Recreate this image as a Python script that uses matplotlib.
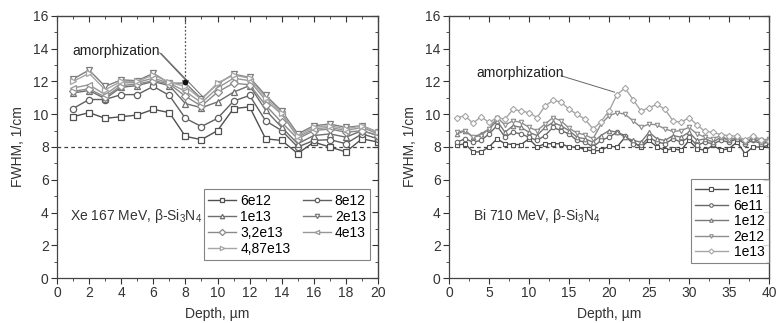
import numpy as np
import matplotlib
matplotlib.use('Agg')
import matplotlib.pyplot as plt
from matplotlib.ticker import MultipleLocator

plt.rcParams['font.family'] = ['Liberation Sans', 'DejaVu Sans']
plt.rcParams['mathtext.fontset'] = 'custom'
plt.rcParams['mathtext.rm'] = 'Liberation Sans'
plt.rcParams['mathtext.it'] = 'Liberation Sans'
plt.rcParams['font.size'] = 10

# Xe 167 MeV, depth 1..20 um
depth_xe = list(range(1, 21))
xe_6e12 = [9.85, 10.1, 9.75, 9.85, 9.95, 10.3, 10.1, 8.65, 8.45, 9.0, 10.35, 10.45, 8.5, 8.4, 7.6, 8.3, 8.0, 7.7, 8.5, 8.3]
xe_8e12 = [10.35, 10.9, 10.9, 11.2, 11.2, 11.7, 11.15, 9.75, 9.25, 9.75, 10.8, 11.15, 9.6, 9.0, 8.0, 8.4, 8.45, 8.2, 8.8, 8.5]
xe_1e13 = [11.3, 11.45, 10.95, 11.65, 11.75, 12.0, 11.75, 10.65, 10.4, 10.75, 11.35, 11.75, 10.25, 9.2, 8.2, 8.7, 8.8, 8.6, 9.0, 8.7]
xe_2e13 = [12.15, 12.7, 11.7, 12.1, 12.05, 12.5, 11.9, 11.9, 10.95, 11.85, 12.45, 12.25, 11.15, 10.2, 8.8, 9.3, 9.4, 9.2, 9.3, 8.9]
xe_32e13 = [11.4, 11.55, 11.05, 11.75, 11.85, 12.05, 11.85, 11.1, 10.5, 11.35, 11.9, 11.8, 10.55, 9.5, 8.5, 9.0, 9.1, 8.9, 9.0, 8.7]
xe_4e13 = [11.6, 11.8, 11.2, 11.9, 11.95, 12.2, 11.9, 11.4, 10.7, 11.6, 12.2, 12.05, 10.85, 10.0, 8.6, 9.1, 9.2, 9.0, 9.2, 8.8]
xe_487e13 = [12.0, 12.5, 11.5, 12.0, 12.0, 12.4, 11.95, 11.7, 10.9, 11.9, 12.4, 12.2, 11.0, 10.1, 8.7, 9.2, 9.3, 9.1, 9.3, 8.9]

# Bi 710 MeV, depth 1..40 um
depth_bi = list(range(1, 41))
bi_1e11 = [8.1, 8.2, 7.7, 7.7, 8.0, 8.5, 8.2, 8.15, 8.15, 8.5, 8.0, 8.2, 8.2, 8.2, 8.0, 8.0, 7.85, 7.75, 7.8, 8.05,
           8.0, 8.6, 8.3, 8.0, 8.4, 8.0, 7.8, 7.9, 7.8, 8.4, 7.9, 7.8, 8.1, 7.8, 7.9, 8.3, 7.6, 8.0, 8.0, 8.1]
bi_6e11 = [8.3, 8.5, 8.3, 8.4, 8.8, 9.3, 8.6, 8.9, 8.8, 8.6, 8.4, 8.7, 9.2, 9.0, 8.8, 8.4, 8.3, 8.0, 8.4, 8.6,
           8.9, 8.7, 8.2, 8.1, 8.6, 8.3, 8.2, 8.5, 8.3, 8.6, 8.1, 8.3, 8.2, 8.4, 8.3, 8.5, 8.2, 8.4, 8.2, 8.3]
bi_1e12 = [8.8, 9.0, 8.6, 8.8, 9.1, 9.6, 8.9, 9.3, 9.2, 8.9, 8.7, 9.2, 9.5, 9.3, 9.0, 8.6, 8.5, 8.3, 8.7, 9.0,
           8.9, 8.6, 8.4, 8.3, 8.9, 8.5, 8.4, 8.7, 8.6, 8.9, 8.4, 8.5, 8.3, 8.6, 8.4, 8.6, 8.3, 8.5, 8.3, 8.4]
bi_2e12 = [8.9, 9.0, 8.6, 8.7, 9.1, 9.8, 9.35, 9.6, 9.5, 9.2, 9.0, 9.4, 9.8, 9.6, 9.15, 8.85, 8.75, 8.5, 9.4, 9.9,
           10.1, 10.0, 9.6, 9.2, 9.4, 9.35, 9.1, 8.95, 9.0, 9.2, 8.8, 8.6, 8.5, 8.7, 8.4, 8.6, 8.3, 8.6, 8.4, 8.5]
bi_1e13 = [9.8, 9.9, 9.45, 9.85, 9.5, 9.8, 9.7, 10.3, 10.2, 10.1, 9.8, 10.5, 10.85, 10.75, 10.3, 10.0, 9.7, 9.1, 9.55, 10.2,
           11.2, 11.6, 10.9, 10.2, 10.4, 10.6, 10.3, 9.6, 9.5, 9.8, 9.35, 8.95, 8.9, 8.75, 8.7, 8.65, 8.45, 8.7, 8.45, 8.35]

xe_series = [(xe_6e12, '6e12', 's', '#505050'), (xe_8e12, '8e12', 'o', '#606060'),
             (xe_1e13, '1e13', '^', '#6e6e6e'), (xe_2e13, '2e13', 'v', '#7c7c7c'),
             (xe_32e13, '3,2e13', 'D', '#8a8a8a'), (xe_4e13, '4e13', '<', '#979797'),
             (xe_487e13, '4,87e13', '>', '#a5a5a5')]
bi_series = [(bi_1e11, '1e11', 's', '#505050'), (bi_6e11, '6e11', 'o', '#686868'),
             (bi_1e12, '1e12', '^', '#7a7a7a'), (bi_2e12, '2e12', 'v', '#8e8e8e'),
             (bi_1e13, '1e13', 'D', '#a6a6a6')]

fig = plt.figure(figsize=(7.78, 3.23), dpi=100)
ax1 = fig.add_axes([57 / 778, 45 / 323, 321 / 778, 262 / 323])
ax2 = fig.add_axes([449 / 778, 45 / 323, 320 / 778, 262 / 323])


def style_axes(ax, xmax, xmajor, xminor):
    ax.set_xlim(0, xmax)
    ax.set_ylim(0, 16)
    ax.xaxis.set_major_locator(MultipleLocator(xmajor))
    ax.xaxis.set_minor_locator(MultipleLocator(xminor))
    ax.yaxis.set_major_locator(MultipleLocator(2))
    ax.yaxis.set_minor_locator(MultipleLocator(1))
    ax.tick_params(which='major', direction='out', length=4, width=0.8, colors='#333333', labelsize=10, pad=2)
    ax.tick_params(which='minor', direction='out', length=2, width=0.6, colors='#333333')
    for s in ax.spines.values():
        s.set_color('#444444')
        s.set_linewidth(0.9)
    top = ax.secondary_xaxis('top')
    top.xaxis.set_major_locator(MultipleLocator(xmajor))
    top.xaxis.set_minor_locator(MultipleLocator(xminor))
    top.tick_params(which='both', direction='in', labeltop=False, colors='#333333')
    top.tick_params(which='major', length=4)
    top.tick_params(which='minor', length=2)
    right = ax.secondary_yaxis('right')
    right.yaxis.set_major_locator(MultipleLocator(2))
    right.yaxis.set_minor_locator(MultipleLocator(1))
    right.tick_params(which='both', direction='in', labelright=False, colors='#333333')
    right.tick_params(which='major', length=4)
    right.tick_params(which='minor', length=2)
    ax.set_xlabel('Depth, µm', color='#333333', labelpad=5)
    ax.set_ylabel('FWHM, 1/cm', color='#333333', labelpad=6)
    ax.axhline(8, color='#444444', lw=0.9, ls=(0, (3, 2.5)), zorder=1)


style_axes(ax1, 20, 2, 1)
style_axes(ax2, 40, 5, 2.5)

for vals, lab, mk, col in xe_series:
    ax1.plot(depth_xe, vals, color=col, lw=1.0, marker=mk, ms=4.5, mfc='white', mec=col, mew=0.9, label=lab)

for vals, lab, mk, col in bi_series:
    ax2.plot(depth_bi, vals, color=col, lw=1.0, marker=mk, ms=3.2, mfc='white', mec=col, mew=0.8, label=lab)

# amorphization marks
ax1.plot([8, 8], [12.1, 16], color='#555555', lw=0.9, ls=(0, (1.5, 1.5)), zorder=1)
ax1.plot(8, 11.95, marker='o', color='#111111', ms=3, zorder=5)
ax1.text(0.95, 13.85, 'amorphization', fontsize=10, color='#222222', va='center')
ax1.plot([6.4, 8.0], [13.75, 12.1], color='#666666', lw=0.7)
ax1.plot([6.5, 9.1], [13.7, 11.05], color='#666666', lw=0.7)

ax2.text(3.4, 12.5, 'amorphization', fontsize=10, color='#222222', va='center')
ax2.plot([14.0, 20.7], [12.35, 11.35], color='#666666', lw=0.7)

ax1.text(0.04, 0.237, r'Xe 167 MeV, $\beta$-Si$_3$N$_4$', transform=ax1.transAxes,
         fontsize=10, color='#333333', va='center')
ax2.text(0.075, 0.235, r'Bi 710 MeV, $\beta$-Si$_3$N$_4$', transform=ax2.transAxes,
         fontsize=10, color='#333333', va='center')

h, l = ax1.get_legend_handles_labels()
order = [0, 2, 4, 6, 1, 3, 5]
leg1 = ax1.legend([h[i] for i in order], [l[i] for i in order], ncol=2, loc='lower right',
                  bbox_to_anchor=(0.975, 0.069), fancybox=False, edgecolor='#666666',
                  fontsize=10, handlelength=2.0, handletextpad=0.3, columnspacing=0.9,
                  labelspacing=0.15, borderpad=0.3, borderaxespad=0, markerscale=0.7)
leg1.get_frame().set_linewidth(0.8)

leg2 = ax2.legend(loc='lower right', bbox_to_anchor=(1.0, 0.057), fancybox=False, edgecolor='#666666',
                  fontsize=10, handlelength=2.4, handletextpad=0.4, labelspacing=0.1,
                  borderpad=0.3, borderaxespad=0, markerscale=0.8)
leg2.get_frame().set_linewidth(0.8)

fig.savefig('out.png', dpi=100)
